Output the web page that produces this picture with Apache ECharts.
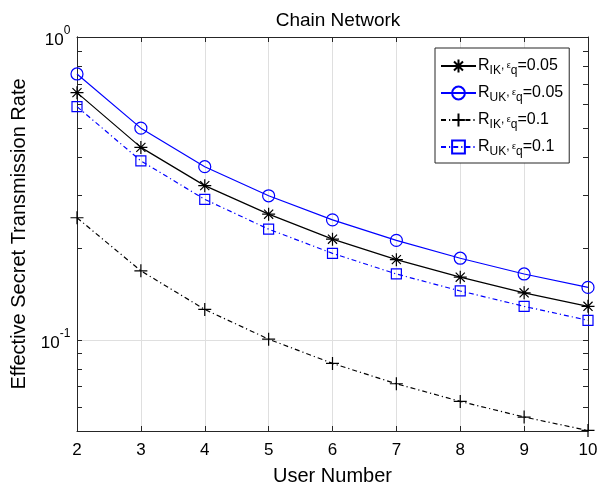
<!DOCTYPE html>
<html><head><meta charset="utf-8">
<script src="https://cdn.jsdelivr.net/npm/echarts@6/dist/echarts.min.js"></script>
<style>html,body{margin:0;padding:0;background:#fff}#c{width:600px;height:485px}</style>
</head><body><div id="c"></div>
<script>
const userNumbers = [2, 3, 4, 5, 6, 7, 8, 9, 10];
const rIK005 = [0.655, 0.432, 0.323, 0.260, 0.215, 0.184, 0.161, 0.143, 0.129];
const rUK005 = [0.755, 0.500, 0.373, 0.299, 0.249, 0.213, 0.186, 0.165, 0.149];
const rIK01  = [0.253, 0.169, 0.126, 0.1005, 0.0836, 0.0716, 0.0626, 0.0556, 0.0502];
const rUK01  = [0.589, 0.390, 0.291, 0.232, 0.193, 0.165, 0.145, 0.129, 0.116];
const yMajorTicks = [0.1, 1];
const yMinorTicks = [0.05,0.06,0.07,0.08,0.09,0.1,0.2,0.3,0.4,0.5,0.6,0.7,0.8,0.9,1];
const seriesNames = ['IK|0.05', 'UK|0.05', 'IK|0.1', 'UK|0.1'];

const FONT = 'Liberation Sans';
const pair = ys => userNumbers.map((x, i) => [x, ys[i]]);
const STAR = 'path://M0,-10L0,10M-10,0L10,0M-7,-7L7,7M-7,7L7,-7';
const PLUS = 'path://M0,-10L0,10M-10,0L10,0';
const dashDot = [5, 3, 1.2, 3];

const chart = echarts.init(document.getElementById('c'));
const tickAxisBase = {
  type: 'log', logBase: 10, min: 0.05, max: 1,
  axisLine: {show: true, lineStyle: {color: '#262626', width: 1}},
  axisLabel: {show: false}, splitLine: {show: false},
  axisTick: {show: true, inside: true, length: 5, lineStyle: {color: '#262626'}, customValues: yMinorTicks}
};
chart.setOption({
  animation: false,
  title: {text: 'Chain Network', left: 333, top: 6, textAlign: 'center',
    textStyle: {fontFamily: FONT, fontSize: 19, fontWeight: 'normal', color: '#000'}},
  grid: {left: 77, right: 12, top: 37, bottom: 54, containLabel: false, outerBoundsMode: 'none'},
  legend: {
    orient: 'vertical', left: 435, top: 48, itemWidth: 35, itemHeight: 16, itemGap: 8,
    padding: [10, 6, 5, 5], borderColor: '#262626', borderWidth: 1, backgroundColor: '#fff',
    formatter: function (name) {
      const p = name.split('|');
      return '{b|R}{s|' + p[0] + '}{c|,}{e| ε}{s|q}{b|=' + p[1] + '}';
    },
    textStyle: {fontFamily: FONT, color: '#000', padding: [0, 0, 0, -3],
      rich: {
        b: {fontFamily: FONT, fontSize: 16, color: '#000', lineHeight: 22, verticalAlign: 'middle'},
        s: {fontFamily: FONT, fontSize: 12, color: '#000', lineHeight: 8, verticalAlign: 'bottom'},
        c: {fontFamily: FONT, fontSize: 12, color: '#000', lineHeight: 22, verticalAlign: 'middle'},
        e: {fontFamily: FONT, fontSize: 9, color: '#000', lineHeight: 22, verticalAlign: 'middle'}
      }}
  },
  xAxis: [{
    type: 'value', min: 2, max: 10, interval: 1, position: 'bottom',
    axisLine: {show: true, onZero: false, lineStyle: {color: '#262626'}},
    axisTick: {show: true, inside: true, length: 5, lineStyle: {color: '#262626'}},
    axisLabel: {fontFamily: FONT, fontSize: 17, color: '#000', margin: 11},
    splitLine: {show: true, lineStyle: {color: '#dfdfdf', width: 1}},
    name: 'User Number', nameLocation: 'middle', nameGap: 35,
    nameTextStyle: {fontFamily: FONT, fontSize: 20, color: '#000'}
  }, {
    type: 'value', min: 2, max: 10, interval: 1, position: 'top',
    axisLine: {show: true, onZero: false, lineStyle: {color: '#262626'}},
    axisTick: {show: true, inside: true, length: 5, lineStyle: {color: '#262626'}},
    axisLabel: {show: false}, splitLine: {show: false}
  }],
  yAxis: [{
    type: 'log', logBase: 10, min: 0.05, max: 1, position: 'left',
    axisLine: {show: true, lineStyle: {color: '#262626'}},
    axisTick: {show: false},
    axisLabel: {
      customValues: yMajorTicks, margin: 6,
      formatter: function (v) {
        const e = Math.round(Math.log10(v));
        return '{b|10}{s|' + e + '}{t| }';
      },
      rich: {
        b: {fontFamily: FONT, fontSize: 17, color: '#000', lineHeight: 19, verticalAlign: 'bottom'},
        s: {fontFamily: FONT, fontSize: 12, color: '#000', lineHeight: 11, verticalAlign: 'top'},
        t: {fontFamily: FONT, fontSize: 2, lineHeight: 24, verticalAlign: 'middle'}
      }
    },
    splitLine: {show: true, lineStyle: {color: '#dfdfdf', width: 1}},
    name: 'Effective Secret Transmission Rate', nameLocation: 'middle', nameGap: 46,
    nameTextStyle: {fontFamily: FONT, fontSize: 20, color: '#000'}
  },
  Object.assign({}, tickAxisBase, {position: 'left'}),
  Object.assign({}, tickAxisBase, {position: 'right'})],
  series: [
    {name: seriesNames[0], type: 'line', data: pair(rIK005), symbol: STAR, symbolSize: 13,
     lineStyle: {color: '#000', width: 1.2}, itemStyle: {color: 'rgba(0,0,0,0)', borderColor: '#000', borderWidth: 1.2}},
    {name: seriesNames[1], type: 'line', data: pair(rUK005), symbol: 'circle', symbolSize: 12,
     lineStyle: {color: '#0000ff', width: 1.2}, itemStyle: {color: 'rgba(0,0,0,0)', borderColor: '#0000ff', borderWidth: 1.2}},
    {name: seriesNames[2], type: 'line', data: pair(rIK01), symbol: PLUS, symbolSize: 13,
     lineStyle: {color: '#000', width: 1.2, type: dashDot}, itemStyle: {color: 'rgba(0,0,0,0)', borderColor: '#000', borderWidth: 1.2}},
    {name: seriesNames[3], type: 'line', data: pair(rUK01), symbol: 'rect', symbolSize: 10,
     lineStyle: {color: '#0000ff', width: 1.2, type: dashDot}, itemStyle: {color: 'rgba(0,0,0,0)', borderColor: '#0000ff', borderWidth: 1.2}}
  ]
});
</script></body></html>
